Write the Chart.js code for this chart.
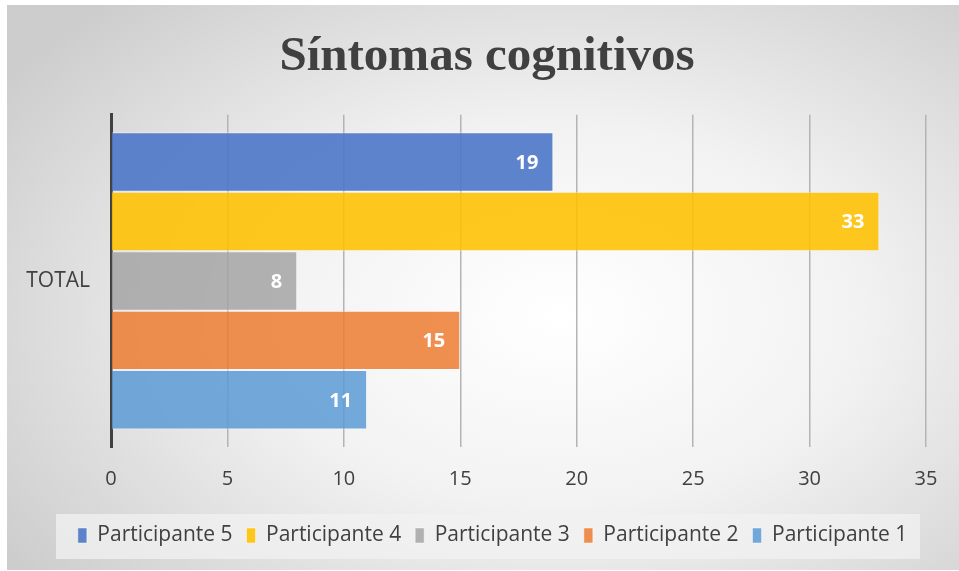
<!DOCTYPE html>
<html>
<head>
<meta charset="utf-8">
<script src="https://cdn.jsdelivr.net/npm/chart.js@4/dist/chart.umd.min.js"></script>
<style>
  html, body { margin: 0; padding: 0; background: #ffffff; }
  #wrap {
    position: absolute; left: 7px; top: 5px; width: 952px; height: 565px;
    background: radial-gradient(ellipse 70% 75% at 58% 55%, #ffffff 0%, #f2f2f2 45%, #cdcdcd 100%);
  }
</style>
</head>
<body>
<div id="wrap"><canvas id="chart" width="952" height="565"></canvas></div>
<script>
const categories = ['TOTAL'];
const seriesNames = ['Participante 5', 'Participante 4', 'Participante 3', 'Participante 2', 'Participante 1'];
const seriesValues = [[19], [33], [8], [15], [11]];
const seriesColors = ['rgba(75, 119, 198, 0.9)', 'rgba(255, 192, 0, 0.88)', 'rgba(165, 165, 165, 0.85)', 'rgba(237, 125, 49, 0.85)', 'rgba(91, 155, 213, 0.85)'];
const xTicks = [0, 5, 10, 15, 20, 25, 30, 35];

// values drawn at the end of each bar
const barLabels = {
  id: 'barLabels',
  afterDatasetsDraw(chart) {
    const ctx = chart.ctx;
    ctx.save();
    ctx.font = 'bold 20px "Open Sans", sans-serif';
    ctx.fillStyle = '#ffffff';
    ctx.textAlign = 'right';
    ctx.textBaseline = 'middle';
    chart.data.datasets.forEach((ds, i) => {
      chart.getDatasetMeta(i).data.forEach((bar, j) => {
        ctx.fillText(ds.data[j], bar.x - 15, bar.y + 1);
      });
    });
    ctx.restore();
  }
};

// light box behind the legend, title and legend nudged like the original
const legendBox = {
  id: 'legendBox',
  afterLayout(chart) {
    chart.titleBlock.left = 41;
    chart.titleBlock.right = 919;
    chart.legend.left += 21;
    chart.legend.right += 21;
  },
  beforeDraw(chart) {
    const ctx = chart.ctx;
    ctx.save();
    ctx.fillStyle = 'rgba(242, 242, 242, 0.75)';
    ctx.fillRect(49, 509, 864, 45);
    ctx.restore();
  }
};

new Chart(document.getElementById('chart').getContext('2d'), {
  type: 'bar',
  data: {
    labels: categories,
    datasets: seriesNames.map((name, i) => ({
      label: name,
      data: seriesValues[i],
      backgroundColor: seriesColors[i],
      borderColor: 'rgba(255, 255, 255, 0.45)',
      borderWidth: 1,
      categoryPercentage: 0.895,
      barPercentage: 1.0
    }))
  },
  options: {
    indexAxis: 'y',
    responsive: false,
    animation: false,
    layout: { padding: { left: 10, right: 33, top: 11, bottom: 14 } },
    scales: {
      x: {
        min: 0, max: 35,
        afterBuildTicks: (s) => { s.ticks = xTicks.map(v => ({ value: v })); },
        grid: { color: '#b4b4b4', lineWidth: 1.5, drawTicks: false },
        border: { display: false },
        ticks: { color: '#404040', font: { family: '"Open Sans", sans-serif', size: 20 }, padding: 20 }
      },
      y: {
        grid: { display: false },
        border: { color: '#404040', width: 3 },
        ticks: { color: '#404040', font: { family: '"Open Sans", sans-serif', size: 21 }, padding: 13 },
        afterFit: (s) => { s.width = 94; }
      }
    },
    plugins: {
      title: {
        display: true,
        text: 'Síntomas cognitivos',
        color: '#404040',
        font: { family: '"Liberation Serif", "Times New Roman", serif', size: 49, weight: 'bold' },
        padding: { top: 12, bottom: 28 }
      },
      legend: {
        position: 'bottom',
        labels: {
          color: '#404040',
          font: { family: '"Open Sans", sans-serif', size: 21 },
          boxWidth: 9, boxHeight: 15,
          padding: 14
        }
      },
      tooltip: { enabled: false }
    }
  },
  plugins: [barLabels, legendBox]
});
</script>
</body>
</html>
